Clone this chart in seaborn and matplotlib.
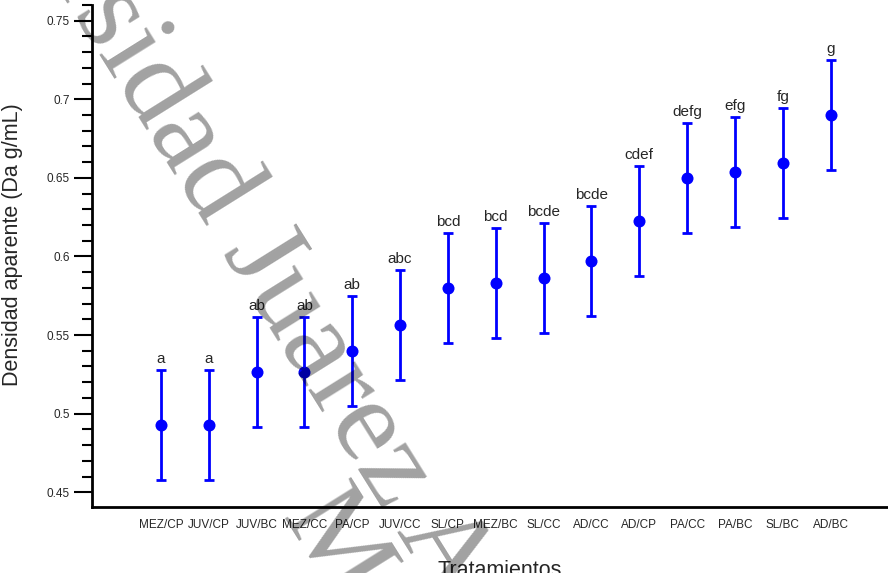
import numpy as np
import pandas as pd
import seaborn as sns
import matplotlib.pyplot as plt
from matplotlib.ticker import MultipleLocator

# treatments, mean apparent density and error
tratamientos = ['MEZ/CP', 'JUV/CP', 'JUV/BC', 'MEZ/CC', 'PA/CP', 'JUV/CC', 'SL/CP', 'MEZ/BC',
                'SL/CC', 'AD/CC', 'AD/CP', 'PA/CC', 'PA/BC', 'SL/BC', 'AD/BC']
densidad = [0.493, 0.493, 0.5265, 0.5265, 0.540, 0.5565, 0.5798, 0.5834,
            0.5862, 0.5972, 0.6228, 0.6498, 0.6538, 0.6593, 0.690]
error = [0.035] * 15
letras = ['a', 'a', 'ab', 'ab', 'ab', 'abc', 'bcd', 'bcd',
          'bcde', 'bcde', 'cdef', 'defg', 'efg', 'fg', 'g']

df = pd.DataFrame({'trat': tratamientos, 'da': densidad, 'err': error, 'letra': letras})

sns.set_style('ticks')
plt.rcParams['font.family'] = ['Liberation Sans', 'DejaVu Sans']

fig = plt.figure(figsize=(8.88, 5.73), dpi=100)
ax = fig.add_axes([92 / 888, 66 / 573, 796 / 888, 502 / 573])

azul = '#0000ff'
ax.errorbar(df['trat'], df['da'], yerr=df['err'], fmt='none', ecolor=azul,
            elinewidth=2.0, capsize=3.8, capthick=2.0, zorder=2)
sns.scatterplot(data=df, x='trat', y='da', color=azul, s=75, edgecolor=azul,
                linewidth=0, ax=ax, zorder=3)

for i, row in df.iterrows():
    ax.annotate(row['letra'], (i, row['da'] + row['err']), xytext=(0, 5),
                textcoords='offset points', ha='center', va='baseline', fontsize=11)

ax.set_xlim(-1.44, 15.2)
ax.set_ylim(0.4406, 0.76)
ax.yaxis.set_major_locator(MultipleLocator(0.05))
ax.yaxis.set_minor_locator(MultipleLocator(0.01))
ax.set_yticks([0.45, 0.5, 0.55, 0.6, 0.65, 0.7, 0.75])
ax.set_yticklabels(['0.45', '0.5', '0.55', '0.6', '0.65', '0.7', '0.75'])
ax.tick_params(axis='y', which='major', length=13, width=1.5, labelsize=8.5, pad=3, color='black')
ax.tick_params(axis='y', which='minor', length=7, width=1.5, color='black')
ax.tick_params(axis='x', length=0, labelsize=8.5, pad=9)

for s in ['top', 'right']:
    ax.spines[s].set_visible(False)
for s in ['left', 'bottom']:
    ax.spines[s].set_linewidth(2)
    ax.spines[s].set_color('black')

ax.set_xlabel('Tratamientos', fontsize=15.5)
ax.set_ylabel('Densidad aparente (Da g/mL)', fontsize=15.5)
ax.xaxis.set_label_coords((500 - 92) / 796, -(560 - 507) / 502)
ax.yaxis.set_label_coords(-(92 - 23) / 796, (507 - 245) / 502)

# watermark
wm = dict(rotation=-58, rotation_mode='anchor', fontsize=86, color='black', alpha=0.37,
          family='Liberation Serif', va='baseline', zorder=10)
fig.text(222 / 888, 1 - 252 / 573, 'Universidad ', ha='right', **wm)
fig.text(222 / 888, 1 - 252 / 573, 'Juarez Autónoma de Tabasco', ha='left', **wm)
fig.text(280 / 888, 1 - 517 / 573, 'México', ha='left', **wm)

fig.savefig('out.png', dpi=100)
